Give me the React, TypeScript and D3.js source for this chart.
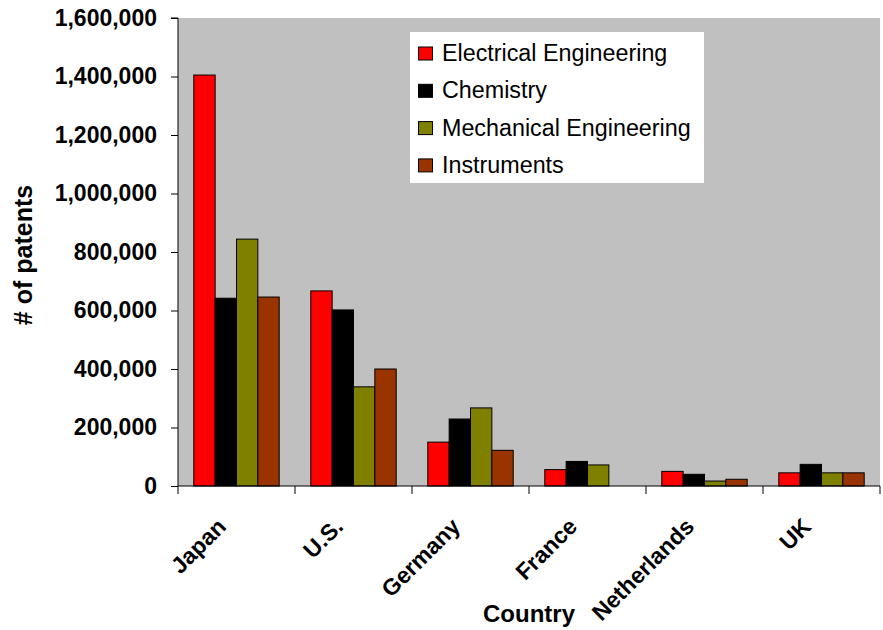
import React, { useEffect, useRef } from "react";
import * as d3 from "d3";

const countries = ["Japan", "U.S.", "Germany", "France", "Netherlands", "UK"];
const seriesNames = ["Electrical Engineering", "Chemistry", "Mechanical Engineering", "Instruments"];
const seriesColors = ["#FF0000", "#000000", "#808000", "#993300"];

const electrical = [1405000, 667000, 150000, 56000, 50000, 45000];
const chemistry = [642000, 602000, 229000, 84000, 40000, 74000];
const mechanical = [844000, 339000, 267000, 72000, 17000, 45000];
const instruments = [646000, 400000, 122000, 0, 23000, 45000];

const yTicks = [0, 200000, 400000, 600000, 800000, 1000000, 1200000, 1400000, 1600000];

const W = 883, H = 630;

export default function App() {
  const ref = useRef<SVGSVGElement>(null);

  useEffect(() => {
    const svg = d3.select(ref.current);
    svg.selectAll("*").remove();

    const left = 178, right = 880, top = 18, bottom = 486;
    const font = "Arial, 'Liberation Sans', sans-serif";

    const x = d3.scaleBand().domain(countries).range([left, right]).paddingInner(0).paddingOuter(0);
    const y = d3.scaleLinear().domain([0, 1600000]).range([bottom, top]);
    // bars touch each other inside a group, gap between groups
    const inner = d3.scaleBand().domain(seriesNames).range([0, x.bandwidth()]).paddingInner(0).paddingOuter(0.74);

    // plot area
    svg.append("rect").attr("x", left).attr("y", top).attr("width", right - left).attr("height", bottom - top)
      .attr("fill", "#C0C0C0");

    const series = [electrical, chemistry, mechanical, instruments];
    series.forEach((vals, si) => {
      svg.append("g").selectAll("rect")
        .data(vals.map((v, i) => ({ v, c: countries[i] })).filter(d => d.v > 0))
        .join("rect")
        .attr("x", d => (x(d.c) as number) + (inner(seriesNames[si]) as number))
        .attr("y", d => y(d.v))
        .attr("width", inner.bandwidth())
        .attr("height", d => bottom - y(d.v))
        .attr("fill", seriesColors[si])
        .attr("stroke", "#000")
        .attr("stroke-width", 1);
    });

    // y axis
    const yAxis = svg.append("g").attr("transform", `translate(${left},0)`)
      .call(d3.axisLeft(y).tickValues(yTicks).tickSize(7).tickPadding(14).tickFormat(d3.format(",")));
    yAxis.selectAll("text").attr("font-family", font).attr("font-size", 23).attr("font-weight", "bold").attr("fill", "#000");
    yAxis.select(".domain").attr("d", `M-7,${top}H0V${bottom}`);

    // x axis
    const xAxis = svg.append("g").attr("transform", `translate(0,${bottom})`);
    xAxis.append("line").attr("x1", left).attr("x2", right).attr("y1", 0).attr("y2", 0).attr("stroke", "#000");
    const bounds = countries.map(c => x(c) as number).concat([right]);
    xAxis.selectAll(".tk").data(bounds).join("line").attr("class", "tk")
      .attr("x1", d => d).attr("x2", d => d).attr("y1", 0).attr("y2", 8).attr("stroke", "#000");
    xAxis.selectAll(".lbl").data(countries).join("text").attr("class", "lbl")
      .attr("transform", d => `translate(${(x(d) as number) + x.bandwidth() / 2 - 9},${42}) rotate(-45)`)
      .attr("text-anchor", "end")
      .attr("font-family", font).attr("font-size", 23).attr("font-weight", "bold")
      .text(d => d);

    // axis titles
    svg.append("text").attr("x", 529).attr("y", 622).attr("text-anchor", "middle")
      .attr("font-family", font).attr("font-size", 24).attr("font-weight", "bold").text("Country");
    svg.append("text").attr("transform", `translate(32,${255}) rotate(-90)`).attr("text-anchor", "middle")
      .attr("font-family", font).attr("font-size", 25).attr("font-weight", "bold").text("# of patents");

    // legend
    const lg = svg.append("g");
    lg.append("rect").attr("x", 410).attr("y", 32).attr("width", 294).attr("height", 151).attr("fill", "#fff");
    seriesNames.forEach((n, i) => {
      const cy = 53 + i * 37.3;
      lg.append("rect").attr("x", 418.5).attr("y", cy - 6).attr("width", 14).attr("height", 13)
        .attr("fill", seriesColors[i]).attr("stroke", "#000");
      lg.append("text").attr("x", 442).attr("y", cy).attr("dy", "0.35em")
        .attr("font-family", font).attr("font-size", 23.3).text(n);
    });
  }, []);

  return <svg ref={ref} width={W} height={H} style={{ position: "absolute", left: 0, top: 0, background: "#fff" }} />;
}
